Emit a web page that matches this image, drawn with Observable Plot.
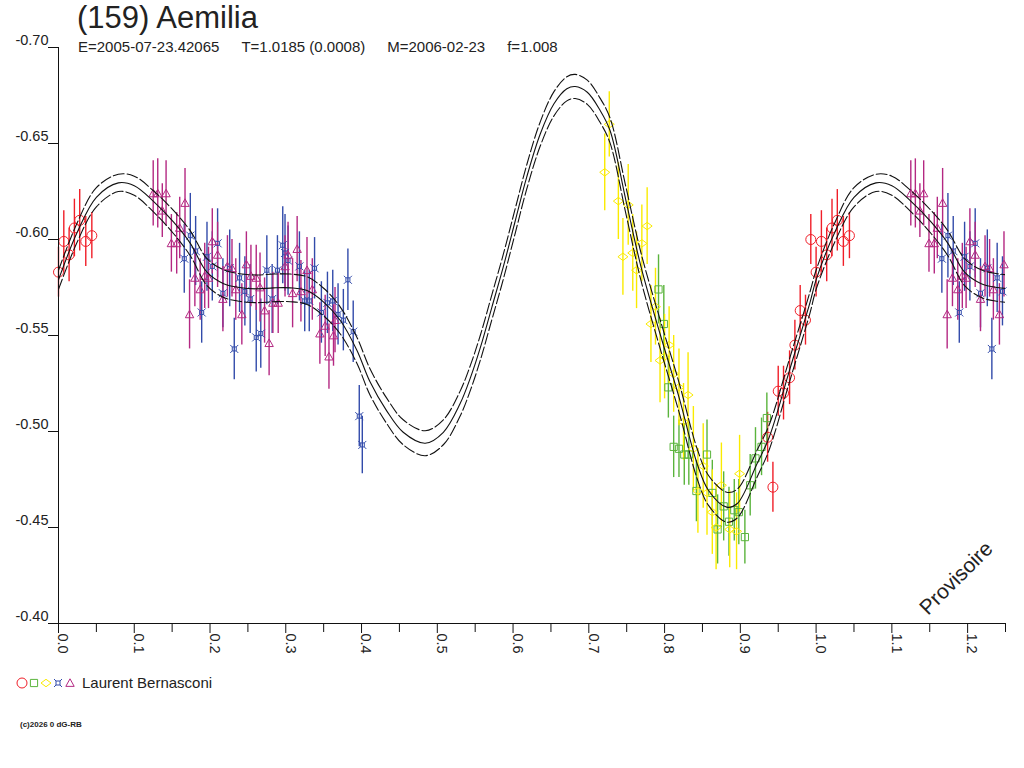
<!DOCTYPE html>
<html>
<head>
<meta charset="utf-8">
<script src="https://cdn.jsdelivr.net/npm/d3@7"></script>
<script src="https://cdn.jsdelivr.net/npm/@observablehq/plot@0.6"></script>
<style>
  body { margin: 0; background: #fff; font-family: "Liberation Sans", Arial, sans-serif; color: #222; }
  #wrap { position: relative; width: 1024px; height: 768px; overflow: hidden; background: #fff; }
  #title { position: absolute; left: 77px; top: 0px; font-size: 31px; line-height: 36px; white-space: pre; }
  #sub { position: absolute; left: 78px; top: 38px; font-size: 15px; line-height: 18px; white-space: pre; display: flex; }
  #sub span { margin-right: 22px; }
  #chart { position: absolute; left: 0; top: 0; }
  #legend { position: absolute; left: 15px; top: 674px; display: flex; align-items: center; font-size: 15px; line-height: 18px; }
  #legend svg { margin-right: 5px; }
  #caption { position: absolute; left: 20px; top: 720px; font-size: 8px; font-weight: bold; }
  #prov { position: absolute; left: 956px; top: 578px; font-size: 21px; transform: translate(-50%, -50%) rotate(-45deg); white-space: pre; }
</style>
</head>
<body>
<div id="wrap">
  <div id="chart"></div>
  <div id="title"></div>
  <div id="sub"></div>
  <div id="prov"></div>
  <div id="legend"></div>
  <div id="caption"></div>
</div>
<script>
// ---------- texts ----------
const titleText = "(159) Aemilia";
const subParts = ["E=2005-07-23.42065", "T=1.0185 (0.0008)", "M=2006-02-23", "f=1.008"];
const observer = "Laurent Bernasconi";
const watermark = "Provisoire";
const captionText = "(c)2026 0 dG-RB";

// ---------- axes ----------
const xDomain = [0, 1.25];
const yDomain = [-0.70, -0.40];
const xMajorTicks = [0.0, 0.1, 0.2, 0.3, 0.4, 0.5, 0.6, 0.7, 0.8, 0.9, 1.0, 1.1, 1.2];
const xMinorTicks = [0.05, 0.15, 0.25, 0.35, 0.45, 0.55, 0.65, 0.75, 0.85, 0.95, 1.05, 1.15, 1.25];
const yTicks = [-0.70, -0.65, -0.60, -0.55, -0.50, -0.45, -0.40];

// ---------- fitted curve (phase 0..1) ----------
const curvePhase = [0.000, 0.025, 0.050, 0.079, 0.100, 0.125, 0.152, 0.174, 0.196, 0.218, 0.239, 0.262, 0.284, 0.306, 0.328, 0.350, 0.372, 0.394, 0.411, 0.433, 0.455, 0.484, 0.508, 0.530, 0.544, 0.557, 0.572, 0.587, 0.603, 0.618, 0.636, 0.654, 0.671, 0.682, 0.698, 0.715, 0.728, 0.749, 0.769, 0.794, 0.819, 0.843, 0.858, 0.882, 0.896, 0.922, 0.938, 0.965, 0.992];
const curveMag = [-0.579, -0.604, -0.622, -0.6295, -0.628, -0.620, -0.609, -0.598, -0.583, -0.577, -0.575, -0.5743, -0.5748, -0.5748, -0.5734, -0.5674, -0.5578, -0.5422, -0.526, -0.5109, -0.4996, -0.4939, -0.4996, -0.5144, -0.5283, -0.5439, -0.5647, -0.5856, -0.6099, -0.6325, -0.6551, -0.6707, -0.6785, -0.6797, -0.6767, -0.6672, -0.6568, -0.6203, -0.5856, -0.5509, -0.5179, -0.4832, -0.4693, -0.4606, -0.4625, -0.4832, -0.4969, -0.532, -0.5673];
const curveSigma = [0.005, 0.005, 0.005, 0.0045, 0.005, 0.0055, 0.006, 0.0065, 0.007, 0.0072, 0.0072, 0.0072, 0.0072, 0.0072, 0.0072, 0.0072, 0.007, 0.0068, 0.0068, 0.0066, 0.0065, 0.0065, 0.0065, 0.0065, 0.0065, 0.0065, 0.0065, 0.0065, 0.0064, 0.0063, 0.0063, 0.0063, 0.0063, 0.0063, 0.0063, 0.0063, 0.0065, 0.007, 0.0072, 0.0075, 0.0077, 0.0078, 0.0078, 0.0078, 0.0075, 0.007, 0.0065, 0.006, 0.0055];

// ---------- observations (phase, reduced magnitude, error) ----------
const redPhase = [0.000, 0.007, 0.014, 0.021, 0.028, 0.036, 0.044, 0.936, 0.943, 0.950, 0.957, 0.965, 0.972, 0.979, 0.986, 0.993];
const redMag   = [-0.583, -0.599, -0.592, -0.606, -0.610, -0.599, -0.602, -0.497, -0.471, -0.521, -0.520, -0.528, -0.545, -0.563, -0.558, -0.600];
const redErr   = [0.013, 0.016, 0.014, 0.015, 0.016, 0.013, 0.012, 0.013, 0.013, 0.013, 0.014, 0.014, 0.013, 0.013, 0.013, 0.013];

const greenPhase = [0.792, 0.799, 0.805, 0.812, 0.819, 0.826, 0.832, 0.842, 0.856, 0.863, 0.870, 0.878, 0.885, 0.892, 0.898, 0.906, 0.913, 0.920, 0.928, 0.935];
const greenMag   = [-0.574, -0.556, -0.523, -0.492, -0.491, -0.488, -0.488, -0.469, -0.488, -0.468, -0.449, -0.461, -0.453, -0.459, -0.458, -0.445, -0.472, -0.486, -0.492, -0.507];
const greenErr   = [0.018, 0.020, 0.016, 0.016, 0.015, 0.016, 0.016, 0.016, 0.018, 0.017, 0.018, 0.018, 0.018, 0.016, 0.017, 0.014, 0.016, 0.016, 0.015, 0.013];

const yellowPhase = [0.721, 0.727, 0.739, 0.745, 0.752, 0.758, 0.763, 0.770, 0.777, 0.782, 0.788, 0.794, 0.800, 0.806, 0.812, 0.819, 0.825, 0.831, 0.838, 0.844, 0.851, 0.856, 0.863, 0.868, 0.875, 0.886, 0.895, 0.899];
const yellowMag   = [-0.635, -0.660, -0.620, -0.591, -0.618, -0.593, -0.584, -0.598, -0.607, -0.556, -0.565, -0.537, -0.539, -0.545, -0.530, -0.523, -0.505, -0.519, -0.491, -0.469, -0.482, -0.468, -0.458, -0.450, -0.472, -0.449, -0.448, -0.478];
const yellowErr   = [0.020, 0.017, 0.020, 0.020, 0.021, 0.020, 0.020, 0.020, 0.020, 0.020, 0.020, 0.022, 0.022, 0.020, 0.020, 0.020, 0.020, 0.022, 0.022, 0.022, 0.022, 0.022, 0.022, 0.022, 0.022, 0.020, 0.020, 0.020];

const bluePhase = [0.166, 0.174, 0.181, 0.189, 0.196, 0.203, 0.210, 0.217, 0.226, 0.232, 0.239, 0.246, 0.253, 0.261, 0.267, 0.275, 0.282, 0.289, 0.296, 0.299, 0.303, 0.318, 0.325, 0.331, 0.338, 0.347, 0.355, 0.362, 0.369, 0.376, 0.382, 0.389, 0.397, 0.401];
const blueMag   = [-0.590, -0.602, -0.594, -0.562, -0.591, -0.586, -0.598, -0.572, -0.585, -0.543, -0.580, -0.573, -0.569, -0.549, -0.551, -0.584, -0.569, -0.584, -0.597, -0.593, -0.589, -0.586, -0.568, -0.568, -0.585, -0.562, -0.567, -0.568, -0.561, -0.558, -0.579, -0.552, -0.508, -0.493];
const blueErr   = [0.018, 0.022, 0.018, 0.016, 0.018, 0.018, 0.018, 0.018, 0.020, 0.016, 0.018, 0.018, 0.018, 0.018, 0.018, 0.018, 0.018, 0.018, 0.020, 0.020, 0.018, 0.018, 0.016, 0.016, 0.016, 0.016, 0.016, 0.016, 0.016, 0.016, 0.016, 0.016, 0.016, 0.015];

const magPhase = [0.125, 0.131, 0.137, 0.142, 0.149, 0.156, 0.160, 0.167, 0.173, 0.180, 0.187, 0.193, 0.198, 0.203, 0.210, 0.217, 0.223, 0.229, 0.234, 0.242, 0.248, 0.254, 0.261, 0.266, 0.272, 0.278, 0.283, 0.290, 0.299, 0.303, 0.309, 0.315, 0.320, 0.328, 0.335, 0.345, 0.352, 0.357, 0.363, 0.365];
const magMag   = [-0.624, -0.624, -0.615, -0.624, -0.598, -0.598, -0.606, -0.619, -0.561, -0.580, -0.574, -0.581, -0.580, -0.599, -0.592, -0.569, -0.586, -0.585, -0.574, -0.561, -0.587, -0.581, -0.580, -0.575, -0.563, -0.546, -0.567, -0.567, -0.586, -0.592, -0.572, -0.595, -0.573, -0.584, -0.574, -0.551, -0.555, -0.539, -0.550, -0.558];
const magErr   = [0.017, 0.018, 0.014, 0.017, 0.015, 0.016, 0.016, 0.018, 0.018, 0.015, 0.016, 0.017, 0.016, 0.017, 0.017, 0.017, 0.016, 0.015, 0.016, 0.016, 0.017, 0.016, 0.017, 0.018, 0.017, 0.017, 0.016, 0.016, 0.016, 0.017, 0.018, 0.017, 0.016, 0.017, 0.016, 0.016, 0.016, 0.017, 0.016, 0.017];

// ---------- symbols (outline, size derived from Plot's r) ----------
const rOf = size => Math.sqrt(size / Math.PI);
const symSquare = { draw(c, size) { const r = rOf(size); c.moveTo(-r, -r); c.lineTo(r, -r); c.lineTo(r, r); c.lineTo(-r, r); c.closePath(); } };
const symDiamond = { draw(c, size) { const r = rOf(size); c.moveTo(-r, 0); c.lineTo(0, -0.75 * r); c.lineTo(r, 0); c.lineTo(0, 0.75 * r); c.closePath(); } };
const symTriangle = { draw(c, size) { const r = rOf(size); c.moveTo(0, -r); c.lineTo(r, 0.8 * r); c.lineTo(-r, 0.8 * r); c.closePath(); } };
const symStar = { draw(c, size) { const r = rOf(size), s = 0.5 * r;
  c.moveTo(-s, -s); c.lineTo(s, -s); c.lineTo(s, s); c.lineTo(-s, s); c.closePath();
  c.moveTo(-r, -r); c.lineTo(-s, -s); c.moveTo(r, -r); c.lineTo(s, -s);
  c.moveTo(r, r); c.lineTo(s, s); c.moveTo(-r, r); c.lineTo(-s, s); } };

const seriesDefs = [
  { key: "red",    phase: redPhase,    mag: redMag,    err: redErr,    color: "rgb(240,30,40)",  symbol: "circle",    r: 5 },
  { key: "green",  phase: greenPhase,  mag: greenMag,  err: greenErr,  color: "rgb(90,180,60)",  symbol: symSquare,   r: 3.6 },
  { key: "yellow", phase: yellowPhase, mag: yellowMag, err: yellowErr, color: "rgb(250,235,0)",  symbol: symDiamond,  r: 5 },
  { key: "blue",   phase: bluePhase,   mag: blueMag,   err: blueErr,   color: "rgb(50,75,170)",  symbol: symStar,     r: 4 },
  { key: "purple", phase: magPhase,    mag: magMag,    err: magErr,    color: "rgb(180,40,130)", symbol: symTriangle, r: 4.2 }
];

// rows, with phases below 0.25 repeated one cycle later (x axis runs to 1.25)
function rowsOf(def) {
  const rows = [];
  def.phase.forEach((p, i) => {
    const row = { phase: p, mag: def.mag[i], err: def.err[i] };
    rows.push(row);
    if (p + 1 <= xDomain[1]) rows.push({ ...row, phase: p + 1 });
  });
  return rows;
}

const curveRows = [];
for (const shift of [0, 1]) {
  curvePhase.forEach((p, i) => {
    if (p + shift <= xDomain[1] + 0.06) curveRows.push({ phase: p + shift, c: curveMag[i], lo: curveMag[i] - curveSigma[i], hi: curveMag[i] + curveSigma[i] });
  });
}

const fmtY = d => d.toFixed(2);
const fmtX = d => d.toFixed(1);

const marks = [];
for (const def of seriesDefs) {
  marks.push(Plot.ruleX(rowsOf(def), { x: "phase", y1: d => d.mag - d.err, y2: d => d.mag + d.err, stroke: def.color, strokeWidth: 1.4 }));
}
for (const def of seriesDefs) {
  marks.push(Plot.dot(rowsOf(def), { x: "phase", y: "mag", symbol: def.symbol, r: def.r, stroke: def.color, fill: "none", strokeWidth: 1 }));
}
marks.push(
  Plot.line(curveRows, { x: "phase", y: "lo", curve: "catmull-rom", stroke: "#111", strokeWidth: 1.1, strokeDasharray: "11,3", clip: true }),
  Plot.line(curveRows, { x: "phase", y: "hi", curve: "catmull-rom", stroke: "#111", strokeWidth: 1.1, strokeDasharray: "11,3", clip: true }),
  Plot.line(curveRows, { x: "phase", y: "c", curve: "catmull-rom", stroke: "#111", strokeWidth: 1.1, clip: true }),
  // axis lines
  Plot.ruleX([xDomain[0]], { stroke: "#111" }),
  Plot.ruleY([yDomain[1]], { stroke: "#111" }),
  // y ticks + labels (label sits just above its tick)
  Plot.axisY({ ticks: yTicks, tickSize: 10, tickFormat: () => "", label: null, stroke: "#111" }),
  Plot.axisY({ ticks: yTicks, tickSize: 10, tickPadding: 0, stroke: "none", dy: -7.5, tickFormat: fmtY, label: null, fill: "#222", fontSize: 14.5 }),
  // x ticks
  Plot.axisX({ ticks: xMajorTicks, tickSize: 10, tickFormat: () => "", label: null, stroke: "#111" }),
  Plot.axisX({ ticks: xMinorTicks, tickSize: 9, tickFormat: () => "", label: null, stroke: "#111" }),
  Plot.axisX({ ticks: xMajorTicks, tickSize: 10, tickPadding: 0, stroke: "none", tickRotate: 90, dx: 4.5, tickFormat: fmtX, label: null, fill: "#222", fontSize: 14.5 })
);

const chart = Plot.plot({
  width: 1024,
  height: 660,
  marginLeft: 58,
  marginRight: 19,
  marginTop: 47,
  marginBottom: 37,
  x: { domain: xDomain },
  y: { domain: yDomain, reverse: true },
  style: { fontFamily: '"Liberation Sans", Arial, sans-serif', fontSize: "13px", color: "#222", background: "white", overflow: "visible" },
  marks
});
document.getElementById("chart").appendChild(chart);

document.getElementById("title").textContent = titleText;
const sub = document.getElementById("sub");
subParts.forEach(t => { const s = document.createElement("span"); s.textContent = t; sub.appendChild(s); });
document.getElementById("prov").textContent = watermark;
document.getElementById("caption").textContent = captionText;

// legend: the five observer symbols, then the observer name
const legend = document.getElementById("legend");
const ls = d3.create("svg").attr("width", 62).attr("height", 16);
const legendSyms = [
  { sym: d3.symbolCircle, r: 5,   color: seriesDefs[0].color },
  { sym: symSquare,       r: 3.6, color: seriesDefs[1].color },
  { sym: symDiamond,      r: 5,   color: seriesDefs[2].color },
  { sym: symStar,         r: 4,   color: seriesDefs[3].color },
  { sym: symTriangle,     r: 4.2, color: seriesDefs[4].color }
];
legendSyms.forEach((s, i) => {
  ls.append("path")
    .attr("transform", `translate(${7 + i * 12},8)`)
    .attr("d", d3.symbol(s.sym, s.r * s.r * Math.PI)())
    .attr("fill", "none").attr("stroke", s.color).attr("stroke-width", 1);
});
legend.appendChild(ls.node());
const lt = document.createElement("span");
lt.textContent = observer;
legend.appendChild(lt);
</script>
</body>
</html>
